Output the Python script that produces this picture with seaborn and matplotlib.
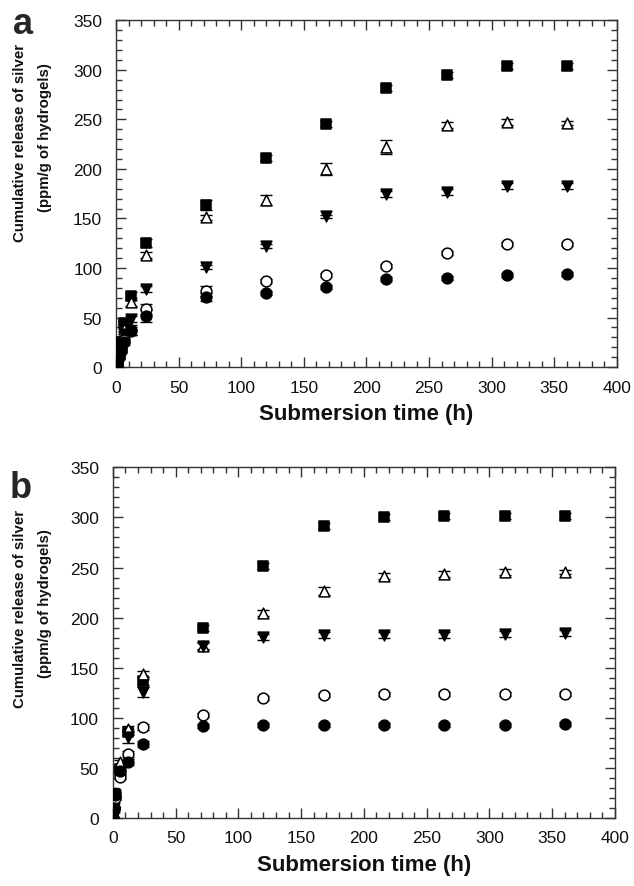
import numpy as np
import pandas as pd
import matplotlib
matplotlib.use('Agg')
import matplotlib.pyplot as plt
import seaborn as sns
from matplotlib.ticker import MultipleLocator

sns.set_style('ticks')
plt.rcParams['font.family'] = ['Liberation Sans', 'DejaVu Sans']

# panel a data
time_a = [0, 0.5, 1, 2, 4, 6, 12, 24, 72, 120, 168, 216, 264, 312, 360]
sq_a = [0, 3, 8, 15, 25, 45, 72, 125, 164, 211, 245, 282, 295, 304, 304]
tri_a = [0, 3, 7, 13, 22, 38, 66, 113, 151, 169, 200, 222, 244, 247, 246]
inv_a = [0, 2, 6, 12, 20, 33, 49, 79, 101, 122, 152, 175, 177, 183, 183]
oc_a = [0, 2, 5, 10, 17, 27, 37, 59, 77, 87, 93, 102, 115, 124, 124]
fc_a = [0, 2, 5, 10, 16, 25, 36, 52, 71, 75, 81, 89, 90, 93, 94]
sq_a_err = [0, 1, 1, 1, 2, 2, 4, 4, 5, 3, 3, 3, 3, 3, 3]
tri_a_err = [0, 1, 1, 1, 2, 2, 4, 3, 3, 5, 6, 7, 3, 3, 2]
inv_a_err = [0, 1, 1, 1, 1, 2, 3, 3, 2, 2, 2, 3, 3, 3, 3]
oc_a_err = [0, 1, 1, 1, 2, 3, 5, 5, 5, 2, 2, 2, 2, 2, 2]
fc_a_err = [0, 1, 1, 1, 2, 3, 4, 6, 4, 2, 2, 2, 2, 2, 2]

# panel b data
time_b = [0, 1, 2, 6, 12, 24, 72, 120, 168, 216, 264, 312, 360]
sq_b = [0, 10, 24, 49, 86, 137, 189.5, 252, 291.5, 300.5, 301.5, 301.5, 301.5]
tri_b = [0, 11, 25, 56, 89, 143.5, 172, 205, 227, 241.5, 244, 246, 246]
inv_b = [0, 10, 23, 46, 81, 125.5, 172, 181, 183, 183, 183, 184, 184.5]
oc_b = [0, 9, 20, 41, 64, 90.5, 103, 120, 123, 123.5, 123.5, 124, 124]
fc_b = [0, 10, 23, 47, 56, 74, 92, 92.5, 92.5, 92.5, 92.5, 93, 94]
sq_b_err = [0, 1, 2, 2, 3, 4, 3, 3, 3, 3, 3, 3, 3]
tri_b_err = [0, 1, 2, 2, 3, 3, 4, 3, 4, 3, 3, 3, 2]
inv_b_err = [0, 1, 2, 2, 6, 5, 3, 3, 3, 3, 3, 3, 3]
oc_b_err = [0, 1, 2, 2, 3, 3, 2, 2, 2, 2, 2, 2, 2]
fc_b_err = [0, 1, 2, 2, 3, 3, 2, 2, 2, 2, 2, 2, 2]

# marker, face colour for each series
styles = [('s', 'black'), ('^', 'white'), ('v', 'black'), ('o', 'white'), ('o', 'black')]

fig = plt.figure(figsize=(6.34, 8.87), dpi=100)
ax_a = fig.add_axes([0.183, 0.585, 0.790, 0.391])
ax_b = fig.add_axes([0.178, 0.0767, 0.792, 0.3953])


def draw(ax, t, series, errs):
    for (m, fc), y, e in zip(styles, series, errs):
        ax.errorbar(t, y, yerr=e, fmt='none', ecolor='black', elinewidth=1,
                    capsize=4, capthick=1, zorder=2)
        sns.scatterplot(x=t, y=y, ax=ax, marker=m, s=60, color=fc,
                        edgecolor='black', linewidth=1.1, zorder=3, legend=False)
    ax.set_xlim(0, 400)
    ax.set_ylim(0, 350)
    ax.xaxis.set_major_locator(MultipleLocator(50))
    ax.xaxis.set_minor_locator(MultipleLocator(10))
    ax.yaxis.set_major_locator(MultipleLocator(50))
    ax.yaxis.set_minor_locator(MultipleLocator(10))
    ax.tick_params(which='both', direction='in', top=True, right=True, width=1, color='#333333')
    ax.tick_params(which='major', length=7, labelsize=12.5, labelcolor='#111111')
    ax.tick_params(which='minor', length=4)
    ax.tick_params(axis='x', which='major', pad=9)
    ax.tick_params(axis='y', which='major', pad=10)
    for s in ax.spines.values():
        s.set_linewidth(1)
        s.set_color('#333333')
    ax.set_xlabel('Submersion time (h)', fontsize=16, fontweight='bold', labelpad=6,
                  color='#111111')
    ax.set_ylabel('')


draw(ax_a, time_a, [sq_a, tri_a, inv_a, oc_a, fc_a],
     [sq_a_err, tri_a_err, inv_a_err, oc_a_err, fc_a_err])
draw(ax_b, time_b, [sq_b, tri_b, inv_b, oc_b, fc_b],
     [sq_b_err, tri_b_err, inv_b_err, oc_b_err, fc_b_err])

# y labels and panel letters
for top in (0, 466):
    fig.text(20 / 634, 1 - (143 + top) / 887, 'Cumulative release of silver', rotation=90,
             ha='center', va='center', fontsize=10.8, fontweight='bold', color='#111111')
    fig.text(45 / 634, 1 - (138 + top) / 887, '(ppm/g of hydrogels)', rotation=90,
             ha='center', va='center', fontsize=10.8, fontweight='bold', color='#111111')
fig.text(23 / 634, 1 - 24 / 887, 'a', ha='center', va='center', fontsize=26, fontweight='bold')
fig.text(21 / 634, 1 - 489 / 887, 'b', ha='center', va='center', fontsize=26, fontweight='bold')

fig.savefig('out.png', dpi=100)
